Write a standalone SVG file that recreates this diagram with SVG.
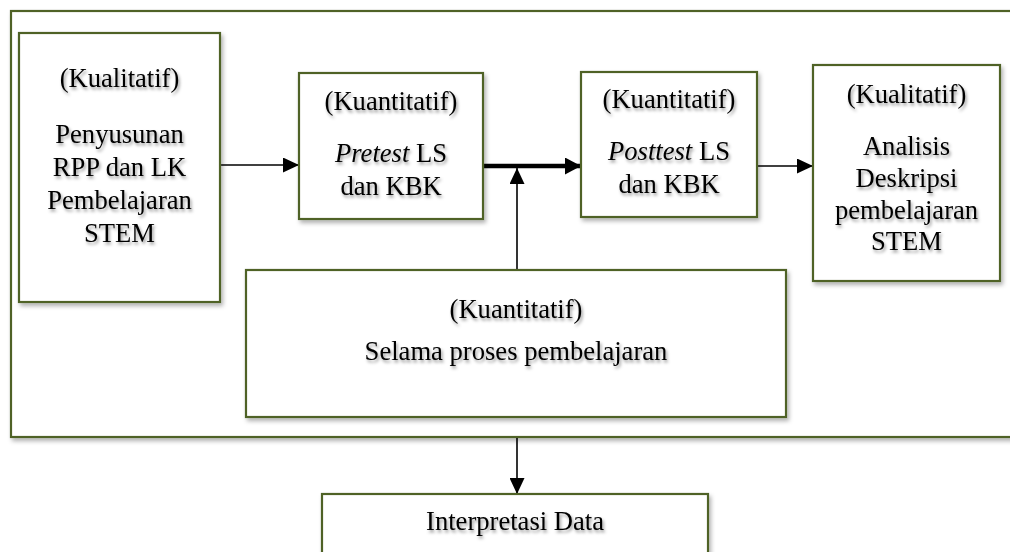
<svg xmlns="http://www.w3.org/2000/svg" width="1010" height="552" viewBox="0 0 1010 552">
<defs>
<style>
.box{fill:#ffffff;stroke:#4f6228;stroke-width:2.2;filter:url(#bs)}
.t{font-family:"Liberation Serif","Times New Roman",serif;font-size:26.6px;fill:#000;text-anchor:middle;filter:url(#ts)}
.c{stroke:#000;stroke-width:1.6;fill:none;marker-end:url(#ah)}
.ck{stroke:#000;stroke-width:4.5;fill:none;marker-end:url(#ah2)}
</style>
<filter id="bs" x="-5%" y="-5%" width="115%" height="120%">
<feDropShadow dx="2" dy="3" stdDeviation="2" flood-color="#000" flood-opacity="0.3"/>
</filter>
<filter id="ts" x="-5%" y="-20%" width="115%" height="160%">
<feDropShadow dx="1.5" dy="2.5" stdDeviation="1.5" flood-color="#000" flood-opacity="0.4"/>
</filter>
<marker id="ah" markerUnits="userSpaceOnUse" markerWidth="16" markerHeight="15" refX="16" refY="7.5" orient="auto">
<path d="M0,0 L16,7.5 L0,15 z" fill="#000"/>
</marker>
<marker id="ah2" markerUnits="userSpaceOnUse" markerWidth="16" markerHeight="17" refX="16" refY="8.5" orient="auto">
<path d="M0,0 L16,8.5 L0,17 z" fill="#000"/>
</marker>
</defs>
<rect width="1010" height="552" fill="#fff"/>
<g id="outer">
<rect class="box" x="11" y="11" width="1020" height="426"/>
</g>
<g id="connectors">
<line class="c" x1="221" y1="165" x2="299" y2="165"/>
<line class="ck" x1="484" y1="166" x2="581" y2="166"/>
<line class="c" x1="517" y1="270" x2="517" y2="168"/>
<line class="c" x1="758" y1="166" x2="813" y2="166"/>
<line class="c" x1="517" y1="438" x2="517" y2="494"/>
</g>
<g id="n1">
<rect class="box" x="19" y="33" width="201" height="269"/>
<text class="t" x="119.5" y="87">(Kualitatif)</text>
<text class="t" x="119.5" y="143">Penyusunan</text>
<text class="t" x="119.5" y="176">RPP dan LK</text>
<text class="t" x="119.5" y="209">Pembelajaran</text>
<text class="t" x="119.5" y="242">STEM</text>
</g>
<g id="n2">
<rect class="box" x="299" y="73" width="184" height="146"/>
<text class="t" x="391" y="110">(Kuantitatif)</text>
<text class="t" x="391" y="162"><tspan font-style="italic">Pretest</tspan> LS</text>
<text class="t" x="391" y="195">dan KBK</text>
</g>
<g id="n3">
<rect class="box" x="581" y="72" width="176" height="145"/>
<text class="t" x="669" y="108">(Kuantitatif)</text>
<text class="t" x="669" y="160"><tspan font-style="italic">Posttest</tspan> LS</text>
<text class="t" x="669" y="193">dan KBK</text>
</g>
<g id="n4">
<rect class="box" x="813" y="65" width="187" height="216"/>
<text class="t" x="906.5" y="103">(Kualitatif)</text>
<text class="t" x="906.5" y="155">Analisis</text>
<text class="t" x="906.5" y="187">Deskripsi</text>
<text class="t" x="906.5" y="219">pembelajaran</text>
<text class="t" x="906.5" y="250">STEM</text>
</g>
<g id="n5">
<rect class="box" x="246" y="270" width="540" height="147"/>
<text class="t" x="516" y="318">(Kuantitatif)</text>
<text class="t" x="516" y="360">Selama proses pembelajaran</text>
</g>
<g id="n6">
<rect class="box" x="322" y="494" width="386" height="80"/>
<text class="t" x="515" y="530">Interpretasi Data</text>
</g>
</svg>
